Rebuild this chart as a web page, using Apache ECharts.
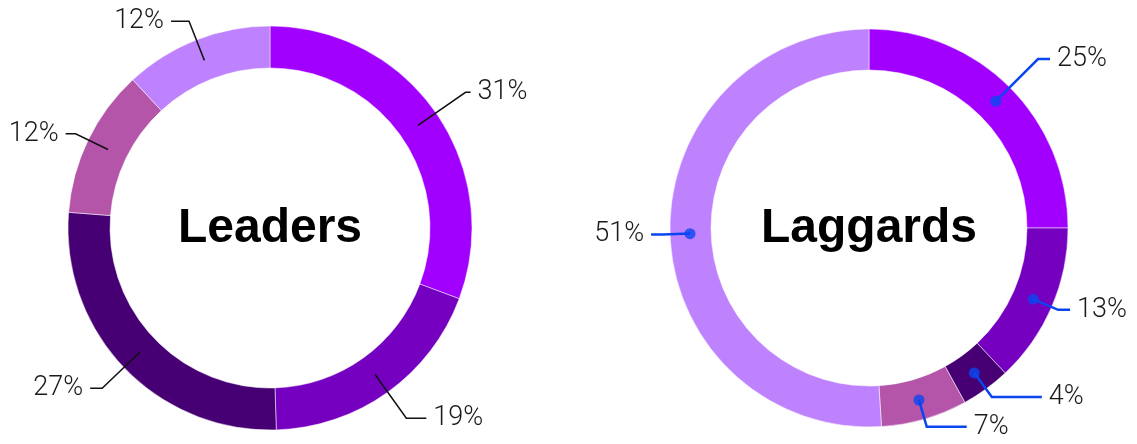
<!DOCTYPE html>
<html>
<head>
<meta charset="utf-8">
<script src="https://cdn.jsdelivr.net/npm/echarts@6/dist/echarts.min.js"></script>
<style>
  html, body { margin: 0; padding: 0; background: #fff; }
  #chart { width: 1137px; height: 444px; }
</style>
</head>
<body>
<div id="chart"></div>
<script>
// slices, clockwise from 12 o'clock
var segmentNames = ['Segment 1', 'Segment 2', 'Segment 3', 'Segment 4', 'Segment 5'];
var leaderValues = [31, 19, 27, 12, 12];
var laggardValues = [25, 13, 4, 7, 51];
var sliceColors = ['#A100FF', '#7500C0', '#460073', '#B455AA', '#BE82FF'];

// leader line lengths per slice (styling only)
var leaderLineLen = [58, 54, 52, 36, 42];
var leaderLineLen2 = [5, 20, 12, 10, 18];
var laggardLineLen = [60, 27, 30, 28, 27];
var laggardLineLen2 = [12, 12, 50, 40, 12];

var chart = echarts.init(document.getElementById('chart'));

function pieData(values) {
  return values.map(function (v, i) {
    return { name: segmentNames[i], value: v, itemStyle: { color: sliceColors[i] } };
  });
}

// angle (in value units) at the middle of each slice, for the dots
function midAngles(values) {
  var acc = 0;
  return values.map(function (v) {
    var m = acc + v / 2;
    acc += v;
    return m;
  });
}

function sum(arr) {
  return arr.reduce(function (a, b) { return a + b; }, 0);
}

var labelFont = {
  fontFamily: 'Roboto',
  fontWeight: 300,
  fontSize: 27,
  color: '#1a1a1a'
};

function ringSeries(values, center, radius) {
  return {
    type: 'pie',
    center: center,
    radius: radius,
    startAngle: 90,
    clockwise: true,
    silent: true,
    label: { show: false },
    labelLine: { show: false },
    itemStyle: { borderColor: '#fff', borderWidth: 0.5 },
    data: pieData(values)
  };
}

function labelSeries(values, center, midR, lineColor, lineWidth, lens, lens2) {
  return {
    type: 'pie',
    center: center,
    radius: [0, midR],
    startAngle: 90,
    clockwise: true,
    silent: true,
    avoidLabelOverlap: false,
    z: 5,
    itemStyle: { color: 'transparent' },
    label: Object.assign({
      show: true,
      position: 'outside',
      formatter: '{c}%',
      overflow: 'none',
      distanceToLabelLine: 7
    }, labelFont),
    labelLine: {
      show: true,
      smooth: false,
      lineStyle: { color: lineColor, width: lineWidth }
    },
    data: values.map(function (v, i) {
      return { name: segmentNames[i], value: v, labelLine: { length: lens[i], length2: lens2[i] } };
    })
  };
}

var lagMids = midAngles(laggardValues);
var titleStyle = { fontFamily: 'Liberation Sans', fontWeight: 'bold', fontSize: 48, color: '#000' };

var option = {
  backgroundColor: '#fff',
  animation: false,
  title: [
    { text: 'Leaders', left: 270, top: 205, padding: 0, textAlign: 'center', textStyle: titleStyle },
    { text: 'Laggards', left: 869, top: 205, padding: 0, textAlign: 'center', textStyle: titleStyle }
  ],
  polar: { center: [869, 228], radius: 199 },
  angleAxis: {
    type: 'value', min: 0, max: sum(laggardValues),
    startAngle: 90, clockwise: true, show: false
  },
  radiusAxis: { type: 'value', min: 0, max: 1, show: false },
  series: [
    ringSeries(leaderValues, [270, 228], [160, 202]),
    labelSeries(leaderValues, [270, 228], 180, '#111', 1.5, leaderLineLen, leaderLineLen2),
    ringSeries(laggardValues, [869, 228], [158, 199]),
    labelSeries(laggardValues, [869, 228], 179, '#0A46F0', 2.5, laggardLineLen, laggardLineLen2),
    {
      type: 'scatter',
      coordinateSystem: 'polar',
      symbolSize: 11,
      silent: true,
      z: 6,
      itemStyle: { color: '#0A46F0' },
      data: lagMids.map(function (a) { return [0.9, a]; })
    }
  ]
};

chart.setOption(option);
</script>
</body>
</html>
